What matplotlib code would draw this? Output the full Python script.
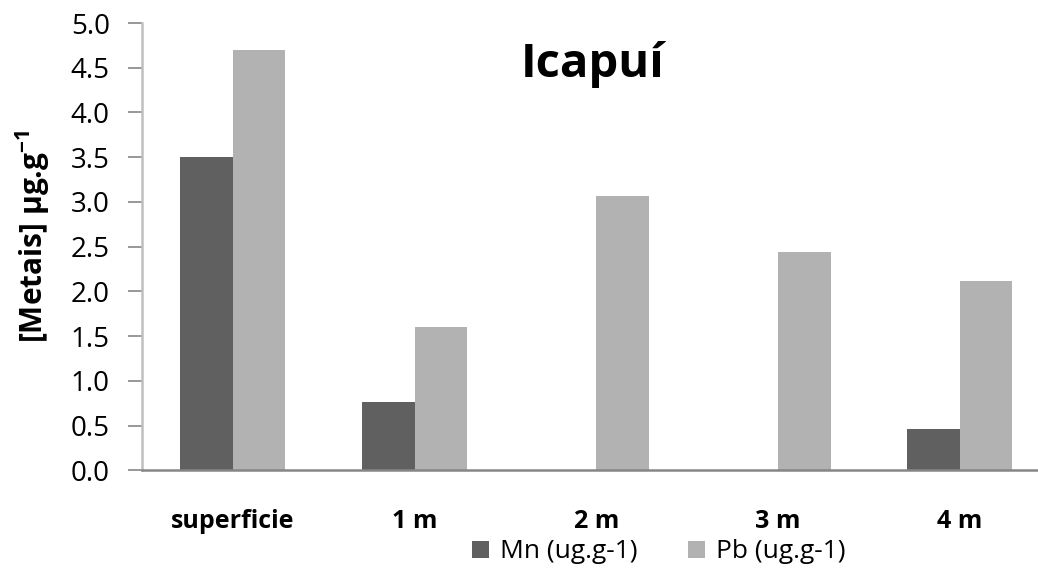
import matplotlib
matplotlib.use("Agg")
import matplotlib.pyplot as plt
import numpy as np

categories = ["superficie", "1 m", "2 m", "3 m", "4 m"]
mn_values = [3.50, 0.76, 0.0, 0.0, 0.46]
pb_values = [4.70, 1.60, 3.07, 2.44, 2.12]
series_names = ["Mn (ug.g-1)", "Pb (ug.g-1)"]
yticks = [0.0, 0.5, 1.0, 1.5, 2.0, 2.5, 3.0, 3.5, 4.0, 4.5, 5.0]

plt.rcParams['font.family'] = ['Open Sans', 'DejaVu Sans']
plt.rcParams['mathtext.fontset'] = 'custom'
plt.rcParams['mathtext.rm'] = 'Open Sans'
plt.rcParams['mathtext.bf'] = 'Open Sans:bold'

W, H = 1038, 572
fig = plt.figure(figsize=(W / 100, H / 100), dpi=100)
ax = fig.add_axes([141.8 / W, (H - 470.3) / H, 909 / W, 447.3 / H])

x = np.arange(len(categories))
w = 0.289
ax.bar(x - w / 2, mn_values, width=w, color="#606060", label=series_names[0])
ax.bar(x + w / 2, pb_values, width=w, color="#b2b2b2", label=series_names[1])

ax.set_xlim(-0.5, len(categories) - 0.5)
ax.set_ylim(0, 5.0)
ax.set_yticks(yticks)
ax.set_yticklabels([f"{v:.1f}" for v in yticks])
ax.set_xticks(x)
ax.set_xticklabels(categories, fontweight="bold", fontsize=18)

for s in ["top", "right"]:
    ax.spines[s].set_visible(False)
ax.spines["left"].set_color("#bfbfbf")
ax.spines["left"].set_linewidth(1.8)
ax.spines["bottom"].set_color("#868686")
ax.spines["bottom"].set_linewidth(1.8)

ax.tick_params(axis="y", length=10, width=1.2, color="#868686", labelsize=20, pad=13, direction="out")
ax.tick_params(axis="x", length=0, pad=28)

fig.text(593 / W, 1 - 77 / H, "Icapuí", ha="center", va="baseline",
         fontsize=34, fontweight="bold")

fig.text(33 / W, 1 - 236 / H, r"[Metais] μg.g$^{\mathbf{-1}}$", rotation=90,
         ha="center", va="center", fontsize=21.5, fontweight="bold")

leg = fig.legend(loc="center left", bbox_to_anchor=(472 / W, 1 - 552 / H), ncol=2,
                 frameon=False, fontsize=19, handlelength=0.64, handleheight=0.64,
                 handletextpad=0.42, columnspacing=1.9, borderpad=0, borderaxespad=0)

fig.savefig("out.png", dpi=100)
